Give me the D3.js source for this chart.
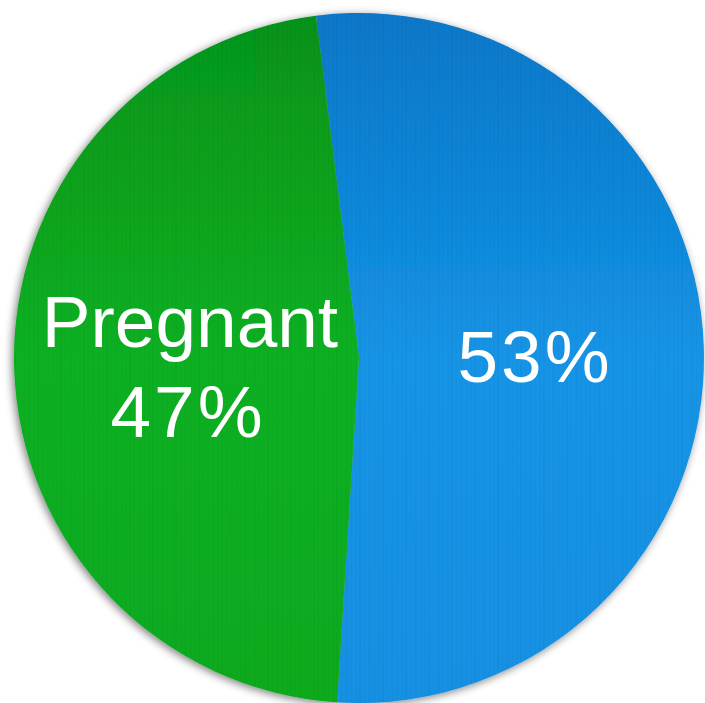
<!DOCTYPE html>
<html><head><meta charset="utf-8">
<script src="https://cdn.jsdelivr.net/npm/d3@7/dist/d3.min.js"></script>
<style>html,body{margin:0;padding:0;background:#fff;overflow:hidden}</style>
</head><body>
<svg id="chart" width="705" height="703"></svg>
<script>
const categories = ["", "Pregnant"];
const values = [53, 47];
const labels = ["53%", "47%"];

const svg = d3.select("#chart");
const cx = 359, cy = 358, r = 345;
const defs = svg.append("defs");

const f = defs.append("filter").attr("id","shadow").attr("x","-10%").attr("y","-10%").attr("width","120%").attr("height","120%");
f.append("feGaussianBlur").attr("in","SourceAlpha").attr("stdDeviation",4);
f.append("feOffset").attr("dx",-2).attr("dy",2).attr("result","b");
f.append("feComponentTransfer").append("feFuncA").attr("type","linear").attr("slope",0.5);
const m = f.append("feMerge"); m.append("feMergeNode"); m.append("feMergeNode").attr("in","SourceGraphic");

function grad(id, c1, c2, c3){
  const g = defs.append("linearGradient").attr("id",id).attr("x1",0).attr("y1",0).attr("x2",0).attr("y2",1);
  g.append("stop").attr("offset","0%").attr("stop-color",c1);
  g.append("stop").attr("offset","50%").attr("stop-color",c2);
  g.append("stop").attr("offset","100%").attr("stop-color",c3);
}
grad("gBlue", "#0877c8", "#1594e6", "#1690e2");
grad("gGreen", "#06941a", "#0ab022", "#09aa1f");

const pat = defs.append("pattern").attr("id","streaks").attr("patternUnits","userSpaceOnUse").attr("width",23).attr("height",703);
[[0,2,0.03],[5,1,0.025],[9,3,0.02],[15,1,0.03],[19,2,0.02]].forEach(([x,w,o])=>{
  pat.append("rect").attr("x",x).attr("y",0).attr("width",w).attr("height",703).attr("fill","#000").attr("opacity",o);
});

const fills = ["url(#gBlue)", "url(#gGreen)"];
const a0 = -0.125;
const pie = d3.pie().sort(null).startAngle(a0).endAngle(a0 + 2*Math.PI);
const arc = d3.arc().innerRadius(0).outerRadius(r);
const arcs = pie(values);

const g = svg.append("g").attr("transform", `translate(${cx},${cy})`);
const gp = g.append("g").attr("filter","url(#shadow)");
gp.selectAll("path.s").data(arcs).join("path").attr("class","s")
  .attr("d", arc).attr("fill", (d,i)=>fills[i]);
g.append("circle").attr("r", r).attr("fill","url(#streaks)");

const txt = svg.append("g").attr("font-family","'Liberation Sans', Arial, Helvetica, sans-serif").attr("fill","#fff").attr("font-size",73).attr("text-anchor","middle");
txt.append("text").attr("x",535).attr("y",382).attr("letter-spacing",3).text(labels[0]);
txt.append("text").attr("x",190).attr("y",347).text(categories[1]);
txt.append("text").attr("x",188).attr("y",437).attr("letter-spacing",3).text(labels[1]);
</script>
</body></html>
